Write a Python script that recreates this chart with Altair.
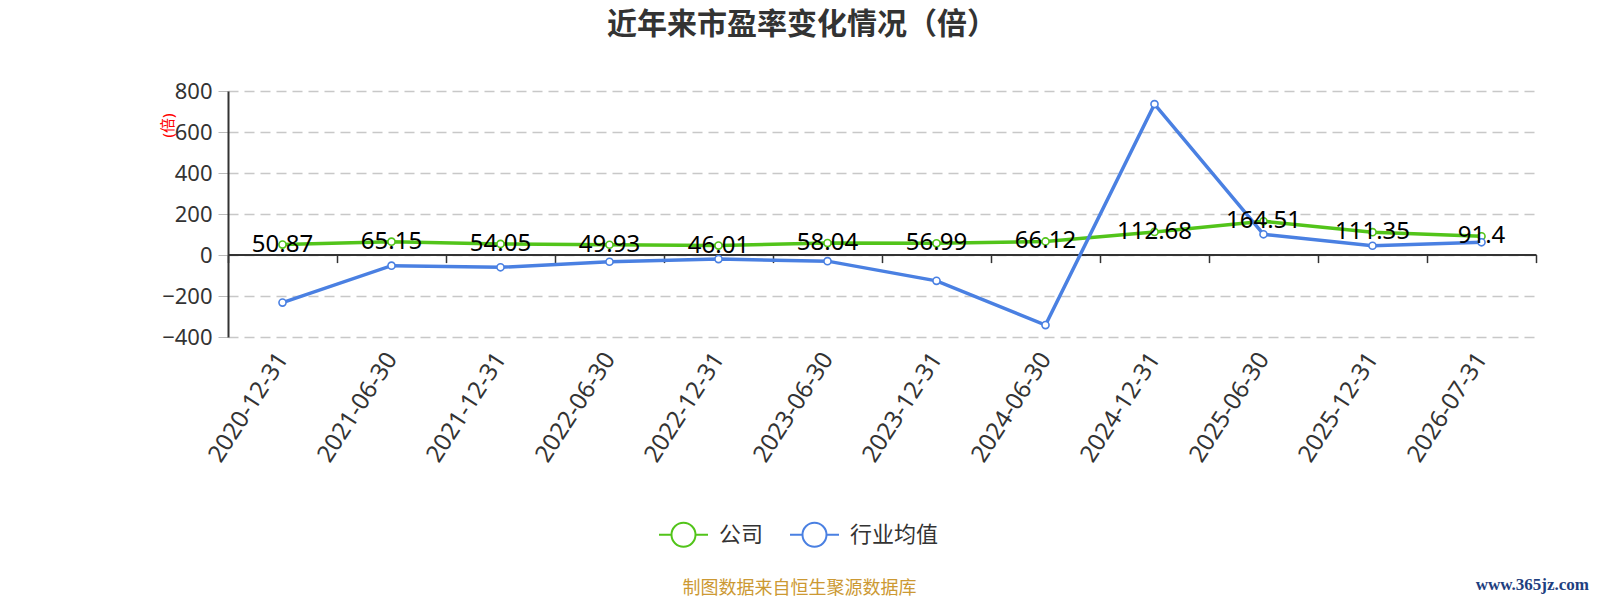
import altair as alt
import pandas as pd

dates = ["2020-12-31", "2021-06-30", "2021-12-31", "2022-06-30", "2022-12-31", "2023-06-30",
         "2023-12-31", "2024-06-30", "2024-12-31", "2025-06-30", "2025-12-31", "2026-07-31"]
company = [50.87, 65.15, 54.05, 49.93, 46.01, 58.04, 56.99, 66.12, 112.68, 164.51, 111.35, 91.4]
industry = [-232, -52, -60, -33, -20, -30, -126, -342, 736, 101, 45, 62]
series_names = ["公司", "行业均值"]
colors = ["#52C41A", "#4A80E2"]
y_ticks = [-400, -200, 0, 200, 400, 600, 800]

title_text = "近年来市盈率变化情况（倍）"
source_text = "制图数据来自恒生聚源数据库"
watermark_text = "www.365jz.com"

rows = []
for d, c in zip(dates, company):
    rows.append({"date": d, "series": series_names[0], "value": c})
for d, v in zip(dates, industry):
    rows.append({"date": d, "series": series_names[1], "value": v})
df = pd.DataFrame(rows)
df_company = pd.DataFrame({"date": dates, "value": company})

FONT = "Noto Sans, Noto Sans CJK SC"
W, H = 1308, 246
zero_offset = -82.4

legend_path = ("M-1,0L-0.49,0M0.49,0L1,0M0.49,0A0.49,0.49,0,1,1,-0.49,0"
               "A0.49,0.49,0,1,1,0.49,0")

x_enc = alt.X(
    "date:N", sort=dates,
    scale=alt.Scale(type="band", paddingInner=0, paddingOuter=0),
    axis=alt.Axis(
        title=None, offset=zero_offset, domainColor="#333333", domainWidth=2,
        tickBand="extent", tickSize=8, tickColor="#333333", tickWidth=1.5,
        labelAngle=-57, labelAlign="right", labelBaseline="middle",
        labelFontSize=24, labelColor="#333333", labelPadding=92, labelFont=FONT,
        grid=False,
    ),
)
y_enc = alt.Y(
    "value:Q",
    scale=alt.Scale(domain=[-400, 800], nice=False, zero=False),
    axis=alt.Axis(
        values=y_ticks, title="(倍)", titleColor="#FF0000", titleFontSize=15,
        titleFontWeight="normal", titleFont=FONT, titleAngle=-90, titleX=-61, titleY=34,
        titleAlign="center", titleBaseline="middle",
        domainColor="#333333", domainWidth=2, tickSize=10, tickColor="#bbbbbb",
        labelFontSize=22, labelColor="#333333", labelPadding=6, labelFont=FONT,
        grid=True, gridColor="#c8c8c8", gridDash=[10, 6], gridWidth=1.5,
    ),
)
color_enc = alt.Color(
    "series:N",
    scale=alt.Scale(domain=series_names, range=colors),
    legend=alt.Legend(
        title=None, orient="none", legendX=430, legendY=418, direction="horizontal",
        symbolType=legend_path, symbolSize=2401, symbolStrokeWidth=2,
        symbolFillColor="white", labelFontSize=22, labelColor="#333333", labelFont=FONT,
        labelOffset=10, columnPadding=22,
    ),
)

lines = alt.Chart(df).mark_line(strokeWidth=3.5).encode(
    x=x_enc, y=y_enc, color=color_enc, order=alt.Order("series:N")
)
points = alt.Chart(df).mark_point(filled=False, fill="white", size=50, strokeWidth=1.6, opacity=1).encode(
    x=alt.X("date:N", sort=dates), y="value:Q", color=alt.Color("series:N", legend=None)
)
labels = alt.Chart(df_company).mark_text(
    fontSize=24, color="#000000", font=FONT, baseline="alphabetic", dy=7
).encode(
    x=alt.X("date:N", sort=dates), y="value:Q", text=alt.Text("value:Q")
)

title = alt.Chart(pd.DataFrame({"t": [title_text]})).mark_text(
    fontSize=30, fontWeight="bold", color="#333333", font="Noto Sans CJK SC",
    align="center", baseline="middle"
).encode(x=alt.value(574), y=alt.value(-66), text="t:N")

source = alt.Chart(pd.DataFrame({"t": [source_text]})).mark_text(
    fontSize=18, color="#CC9933", font="Noto Sans CJK SC", align="center", baseline="middle"
).encode(x=alt.value(571.5), y=alt.value(497.5), text="t:N")

watermark = alt.Chart(pd.DataFrame({"t": [watermark_text]})).mark_text(
    fontSize=17, fontWeight="bold", color="#1F3F7F", font="Liberation Serif",
    align="right", baseline="middle"
).encode(x=alt.value(1361), y=alt.value(494), text="t:N")

chart = alt.layer(lines, points, labels, title, source, watermark).properties(
    width=W, height=H,
    autosize=alt.AutoSizeParams(type="none"),
    padding={"left": 220, "top": 83, "right": 56, "bottom": 261},
).configure(font=FONT, view=alt.ViewConfig(stroke=None))

chart.save("out.html", embed_options={"renderer": "svg", "actions": False})
